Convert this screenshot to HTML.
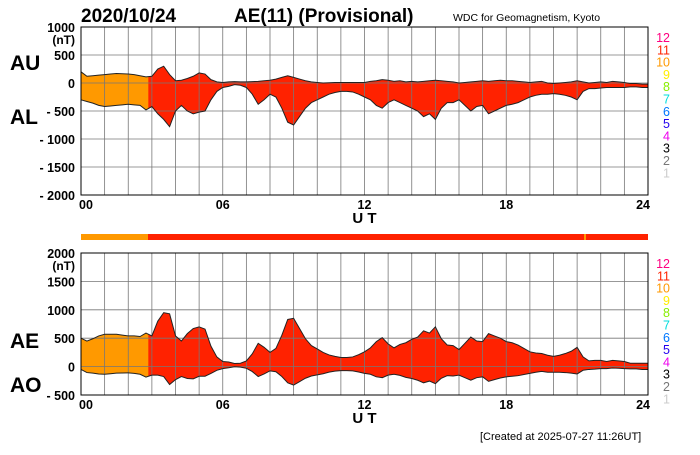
<!DOCTYPE html>
<html><head><meta charset="utf-8"><style>
body{margin:0;background:#fff;width:700px;height:450px;overflow:hidden}
svg{font-family:"Liberation Sans",Arial,sans-serif}
</style></head><body>
<svg id="c" width="700" height="450" xmlns="http://www.w3.org/2000/svg">
<text x="81" y="22" font-size="19" font-weight="bold">2020/10/24</text>
<text x="234" y="22" font-size="19" font-weight="bold">AE(11) (Provisional)</text>
<text x="453" y="21" font-size="10.5">WDC for Geomagnetism, Kyoto</text>
<text x="10" y="70" font-size="21" font-weight="bold">AU</text>
<text x="10" y="124" font-size="21" font-weight="bold">AL</text>
<text x="10" y="348" font-size="21" font-weight="bold">AE</text>
<text x="10" y="392" font-size="21" font-weight="bold">AO</text>
<text x="480" y="440" font-size="11">[Created at 2025-07-27 11:26UT]</text>
<rect x="81" y="234" width="567" height="6" fill="#ff2200"/>
<rect x="81" y="234" width="67" height="6" fill="#ff9900"/>
<rect x="584" y="234" width="2" height="6" fill="#ff9900"/>
</svg>
<script>
const au=[200,120,130,140,150,160,170,165,160,150,130,110,120,
250,300,150,40,50,80,120,180,160,60,20,10,
20,25,20,20,25,30,40,50,70,100,130,100,
70,40,20,10,0,5,10,10,10,10,10,10,
30,40,60,50,30,40,20,30,20,30,40,50,
40,30,20,0,10,20,30,40,30,40,50,40,
40,30,20,10,20,30,0,-10,0,10,20,40,
20,0,10,20,10,30,20,10,-10,-10,-20,-20];
const al=[-300,-330,-360,-400,-420,-410,-400,-390,-380,-390,-400,-480,-420,
-550,-650,-780,-500,-400,-500,-550,-520,-500,-300,-150,-80,
-60,-30,-40,-80,-200,-380,-300,-200,-250,-450,-700,-750,
-600,-450,-350,-300,-250,-200,-170,-150,-150,-160,-200,-250,
-300,-400,-450,-350,-300,-350,-400,-450,-500,-600,-550,-650,
-450,-350,-350,-300,-400,-500,-420,-400,-550,-500,-450,-400,
-380,-350,-300,-250,-220,-200,-200,-190,-200,-220,-250,-300,
-150,-100,-100,-90,-80,-80,-80,-80,-70,-70,-80,-80];
const topTicks=[1000,500,0,-500,-1000,-1500,-2000];
const botTicks=[2000,1500,1000,500,0,-500];
const xTicks=["00","06","12","18","24"];
const legendNums=["12","11","10","9","8","7","6","5","4","3","2","1"];
const legendCols=["#ff0080","#ff2200","#ff9900","#ffee00","#88ee00","#00dddd","#0077ff","#2200ee","#ee00ee","#000","#777","#ccc"];
const S=document.getElementById('c'),NS="http://www.w3.org/2000/svg";
const X0=81,X1=648;
const xs=h=>X0+(X1-X0)*h/24;
const xi=(i,n)=>xs(24*i/(n-1));
function mk(t,a,p){const e=document.createElementNS(NS,t);for(const k in a)e.setAttribute(k,a[k]);(p||S).appendChild(e);return e;}
function panel(id,top,vmax,vmin,ticks,upper,lower,sep){
 const y=v=>top+(vmax-v)/(vmax-vmin)*(sep);
 const bot=top+sep;
 const n=upper.length;
 const cp=mk('clipPath',{id:id+'o'});mk('rect',{x:X0,y:top,width:xs(2.85)-X0,height:sep},cp);
 const up=upper.map((v,i)=>xi(i,n)+','+y(v)).join(' ');
 const lo=lower.map((v,i)=>xi(i,n)+','+y(v)).reverse().join(' ');
 const f=mk('polygon',{points:up+' '+lo,fill:'#ff2200'});
 
 
 const f2=mk('polygon',{points:up+' '+lo,fill:'#ff9900','clip-path':'url(#'+id+'o)'});
 
 
 for(let h=0;h<=24;h++){const l=mk('line',{x1:xs(h),x2:xs(h),y1:top,y2:bot,stroke:'#777','stroke-width':0.8});
  
  }
 ticks.forEach(t=>{const l=mk('line',{x1:X0,x2:X1,y1:y(t),y2:y(t),stroke:'#777','stroke-width':0.8});
  
  
  const tx=mk('text',{x:75,y:y(t)+5,'font-size':12.5,'font-weight':'bold','text-anchor':'end'});tx.textContent=t<0?'- '+(-t):String(t);
  
  });
 const u=mk('text',{x:75,y:y(ticks[0])+17,'font-size':12,'font-weight':'bold','text-anchor':'end'});u.textContent='(nT)';
 
 
 [upper,lower].forEach((arr,k)=>{const p=mk('polyline',{points:arr.map((v,i)=>xi(i,n)+','+y(v)).join(' '),fill:'none',stroke:'#222','stroke-width':1});
  
  });
 const r=mk('rect',{x:X0,y:top,width:X1-X0,height:sep,fill:'none',stroke:'#000','stroke-width':1});
 
 
 xTicks.forEach((t,i)=>{const tx=mk('text',{x:xs(i*6)+(i==0?-2:i==4?2:0),y:bot+14,'font-size':12.5,'font-weight':'bold','text-anchor':i==0?'start':i==4?'end':'middle'});tx.textContent=t;
  
  });
 const ut=mk('text',{x:xs(12),y:bot+28,'font-size':15,'font-weight':'bold','text-anchor':'middle'});ut.textContent='U T';
 
 
 legendNums.forEach((n,i)=>{const tx=mk('text',{x:670,y:top+15+i*12.3,'font-size':12.5,'text-anchor':'end',fill:legendCols[i]});tx.textContent=n;
  
  });
}
panel('au-al',27,1000,-2000,topTicks,au,al,168);
const ae=au.map((v,i)=>v-al[i]);
const ao=au.map((v,i)=>(v+al[i])/2);
panel('ae-ao',253,2000,-500,botTicks,ae,ao,142);
</script>
</body></html>
